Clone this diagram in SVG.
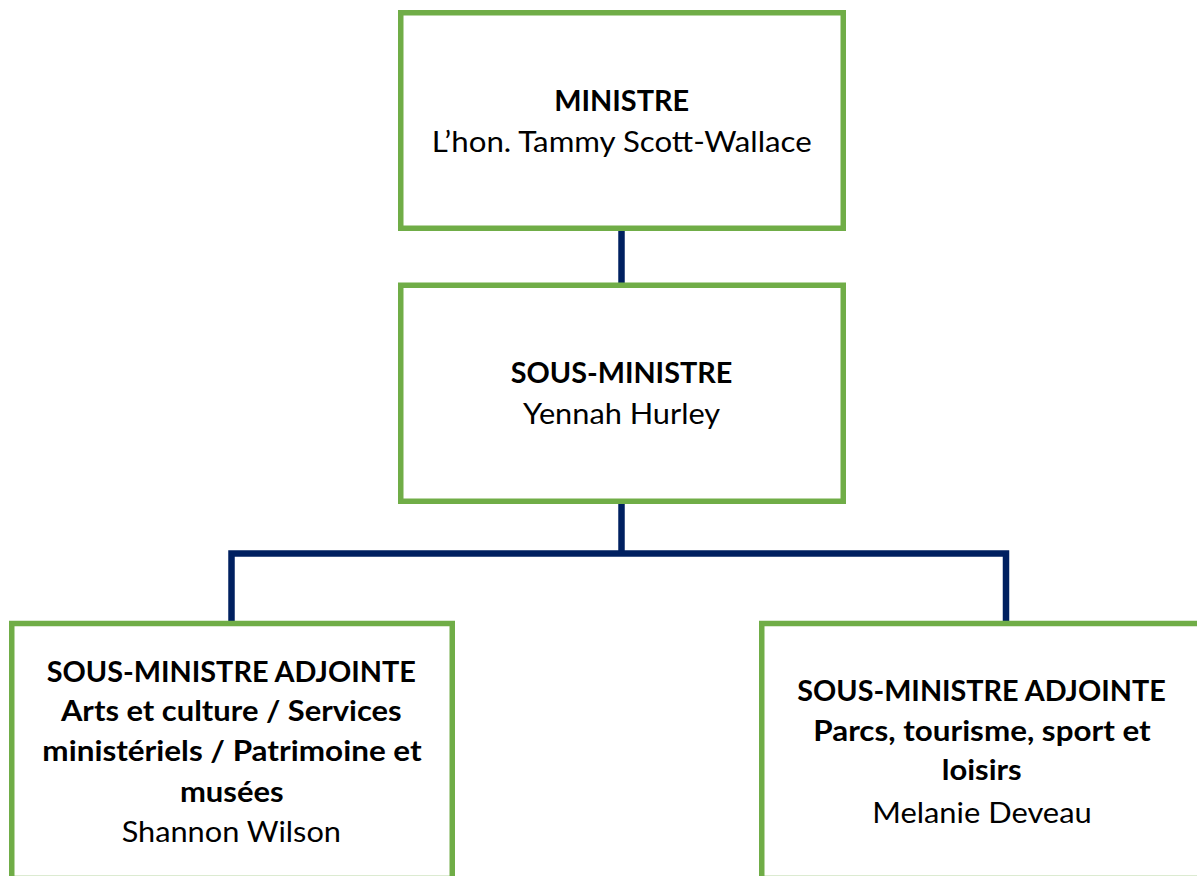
<svg xmlns="http://www.w3.org/2000/svg" width="1197" height="876" viewBox="0 0 1197 876">
<style>
.box{fill:#fff;stroke:#70AD47;stroke-width:5.5}
.con{fill:none;stroke:#002060;stroke-width:6.5;stroke-linejoin:miter}
text{font-family:Lato,"Open Sans","Liberation Sans",sans-serif;font-size:29px;fill:#000;text-anchor:middle}
.b{font-weight:bold}
</style>
<rect width="1197" height="876" fill="#fff"/>
<g id="connectors">
<path class="con" d="M621.5 229V286"/>
<path class="con" d="M621.5 502V553.5"/>
<path class="con" d="M231.5 623V553.5H1006V623"/>
</g>
<g id="ministre">
<rect class="box" x="400.75" y="12.75" width="442.5" height="215.5"/>
<text class="b" x="621.7" y="111" textLength="135" lengthAdjust="spacingAndGlyphs">MINISTRE</text>
<text x="621.7" y="152" textLength="380" lengthAdjust="spacingAndGlyphs">L’hon. Tammy Scott-Wallace</text>
</g>
<g id="sous-ministre">
<rect class="box" x="400.75" y="285.25" width="442.5" height="216"/>
<text class="b" x="621.5" y="383.3" textLength="221.6" lengthAdjust="spacingAndGlyphs">SOUS-MINISTRE</text>
<text x="621.6" y="424" textLength="197" lengthAdjust="spacingAndGlyphs">Yennah Hurley</text>
</g>
<g id="sma-arts">
<rect class="box" x="11.75" y="623.5" width="440.5" height="255"/>
<text class="b" x="231.3" y="682.3" textLength="369.3" lengthAdjust="spacingAndGlyphs">SOUS-MINISTRE ADJOINTE</text>
<text class="b" x="231.3" y="721" textLength="340.7" lengthAdjust="spacingAndGlyphs">Arts et culture / Services</text>
<text class="b" x="232" y="760.7" textLength="379.3" lengthAdjust="spacingAndGlyphs">ministériels / Patrimoine et</text>
<text class="b" x="231.8" y="801.7" textLength="103.7" lengthAdjust="spacingAndGlyphs">musées</text>
<text x="231.3" y="842.3" textLength="219.3" lengthAdjust="spacingAndGlyphs">Shannon Wilson</text>
</g>
<g id="sma-parcs">
<rect class="box" x="761.75" y="623.5" width="440" height="255"/>
<text class="b" x="981.5" y="700.7" textLength="368.4" lengthAdjust="spacingAndGlyphs">SOUS-MINISTRE ADJOINTE</text>
<text class="b" x="982" y="740.7" textLength="337.4" lengthAdjust="spacingAndGlyphs">Parcs, tourisme, sport et</text>
<text class="b" x="981.7" y="780" textLength="80" lengthAdjust="spacingAndGlyphs">loisirs</text>
<text x="982" y="822.7" textLength="219.4" lengthAdjust="spacingAndGlyphs">Melanie Deveau</text>
</g>
</svg>
